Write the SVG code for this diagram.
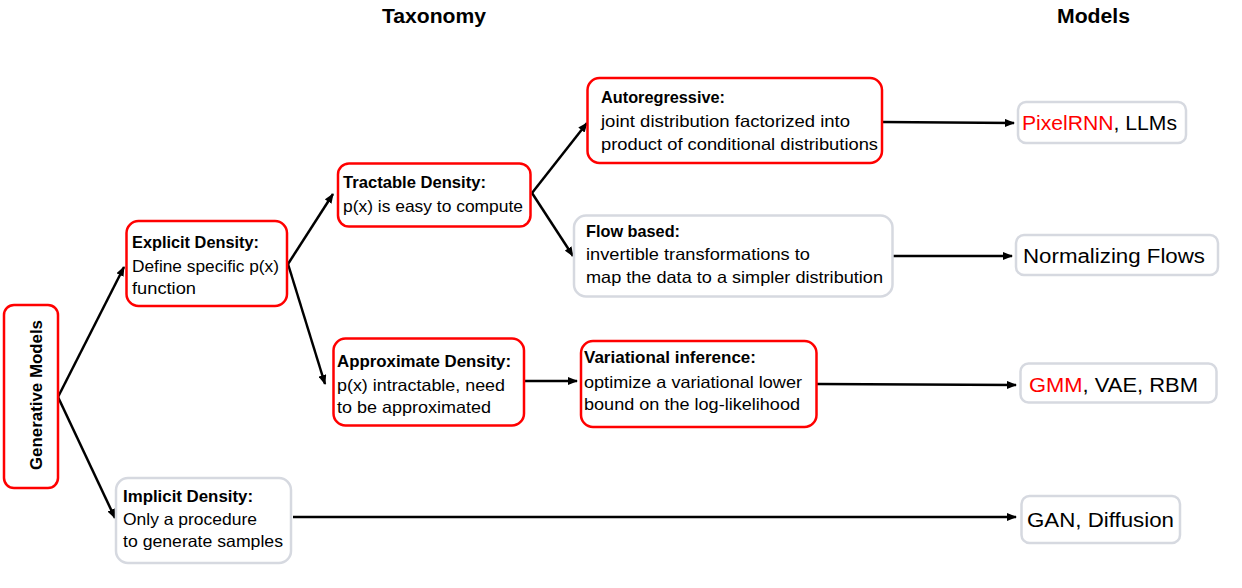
<svg xmlns="http://www.w3.org/2000/svg" width="1242" height="588" viewBox="0 0 1242 588">
<style>
text{font-family:"Liberation Sans",Arial,sans-serif;fill:#000}
.t{font-size:16.5px}
.b{font-size:16.5px;font-weight:bold}
.m{font-size:20px}
.h{font-size:20px;font-weight:bold}
.red{fill:#ff0000}
.rb{fill:#fff;stroke:#ff0000;stroke-width:2.5}
.gb{fill:#fff;stroke:#d6d9e0;stroke-width:2.5}
.c line{stroke:#000;stroke-width:2.5;marker-end:url(#ah)}
</style>
<defs>
<marker id="ah" markerWidth="10" markerHeight="8" refX="9" refY="4" orient="auto" markerUnits="userSpaceOnUse">
<path d="M0,0 L10,4 L0,8 z" fill="#000"/>
</marker>
</defs>
<rect width="1242" height="588" fill="#fff"/>
<g id="headers">
<text class="h" x="382" y="23" textLength="104" lengthAdjust="spacingAndGlyphs">Taxonomy</text>
<text class="h" x="1057" y="23" textLength="73" lengthAdjust="spacingAndGlyphs">Models</text>
</g>
<g class="c" id="connectors">
<line x1="58" y1="397" x2="124" y2="267"/>
<line x1="58" y1="397" x2="115" y2="518"/>
<line x1="288" y1="264" x2="333" y2="194"/>
<line x1="288" y1="264" x2="325" y2="384"/>
<line x1="532" y1="193" x2="587" y2="123"/>
<line x1="532" y1="193" x2="573" y2="256"/>
<line x1="524" y1="381" x2="577" y2="381"/>
<line x1="882" y1="122" x2="1014" y2="123"/>
<line x1="893" y1="256" x2="1012" y2="256"/>
<line x1="817" y1="384" x2="1016" y2="385"/>
<line x1="293" y1="517" x2="1016" y2="517"/>
</g>
<g id="generative">
<rect class="rb" x="4" y="305" width="54" height="183" rx="10"/>
<text class="b" transform="translate(42,395) rotate(-90)" text-anchor="middle" textLength="150" lengthAdjust="spacingAndGlyphs">Generative Models</text>
</g>
<g id="explicit">
<rect class="rb" x="126.5" y="221" width="160.5" height="85" rx="12"/>
<text class="b" x="132" y="248" textLength="127" lengthAdjust="spacingAndGlyphs">Explicit Density:</text>
<text class="t" x="132" y="272" textLength="147" lengthAdjust="spacingAndGlyphs">Define specific p(x)</text>
<text class="t" x="132" y="294" textLength="64" lengthAdjust="spacingAndGlyphs">function</text>
</g>
<g id="implicit">
<rect class="gb" x="116" y="478" width="175" height="85" rx="12"/>
<text class="b" x="123" y="502" textLength="130" lengthAdjust="spacingAndGlyphs">Implicit Density:</text>
<text class="t" x="123" y="525" textLength="134" lengthAdjust="spacingAndGlyphs">Only a procedure</text>
<text class="t" x="123" y="547" textLength="160" lengthAdjust="spacingAndGlyphs">to generate samples</text>
</g>
<g id="tractable">
<rect class="rb" x="338" y="163.5" width="192.5" height="63" rx="11"/>
<text class="b" x="343" y="188" textLength="143" lengthAdjust="spacingAndGlyphs">Tractable Density:</text>
<text class="t" x="343" y="212" textLength="180" lengthAdjust="spacingAndGlyphs">p(x) is easy to compute</text>
</g>
<g id="approximate">
<rect class="rb" x="333.5" y="338.5" width="190.5" height="87" rx="12"/>
<text class="b" x="337" y="367" textLength="174" lengthAdjust="spacingAndGlyphs">Approximate Density:</text>
<text class="t" x="337" y="391" textLength="168" lengthAdjust="spacingAndGlyphs">p(x) intractable, need</text>
<text class="t" x="337" y="413" textLength="154" lengthAdjust="spacingAndGlyphs">to be approximated</text>
</g>
<g id="autoregressive">
<rect class="rb" x="587.5" y="78" width="294.5" height="85" rx="12"/>
<text class="b" x="601" y="103" textLength="124" lengthAdjust="spacingAndGlyphs">Autoregressive:</text>
<text class="t" x="601" y="127" textLength="249" lengthAdjust="spacingAndGlyphs">joint distribution factorized into</text>
<text class="t" x="601" y="150" textLength="277" lengthAdjust="spacingAndGlyphs">product of conditional distributions</text>
</g>
<g id="flow">
<rect class="gb" x="574" y="215.5" width="318.5" height="81" rx="12"/>
<text class="b" x="586" y="237" textLength="94" lengthAdjust="spacingAndGlyphs">Flow based:</text>
<text class="t" x="586" y="260" textLength="224" lengthAdjust="spacingAndGlyphs">invertible transformations to</text>
<text class="t" x="586" y="283" textLength="297" lengthAdjust="spacingAndGlyphs">map the data to a simpler distribution</text>
</g>
<g id="variational">
<rect class="rb" x="581" y="341" width="235.5" height="86" rx="12"/>
<text class="b" x="584" y="363" textLength="172" lengthAdjust="spacingAndGlyphs">Variational inference:</text>
<text class="t" x="584" y="388" textLength="218" lengthAdjust="spacingAndGlyphs">optimize a variational lower</text>
<text class="t" x="584" y="410" textLength="216" lengthAdjust="spacingAndGlyphs">bound on the log-likelihood</text>
</g>
<g id="pixelrnn">
<rect class="gb" x="1018" y="102" width="168" height="41" rx="8"/>
<text class="m" x="1022" y="130" textLength="155" lengthAdjust="spacingAndGlyphs"><tspan class="red">PixelRNN</tspan>, LLMs</text>
</g>
<g id="normalizing">
<rect class="gb" x="1016" y="235" width="202" height="40" rx="8"/>
<text class="m" x="1023" y="263" textLength="182" lengthAdjust="spacingAndGlyphs">Normalizing Flows</text>
</g>
<g id="gmm">
<rect class="gb" x="1020.5" y="363.5" width="196" height="39" rx="8"/>
<text class="m" x="1029" y="392" textLength="169" lengthAdjust="spacingAndGlyphs"><tspan class="red">GMM</tspan>, VAE, RBM</text>
</g>
<g id="gan">
<rect class="gb" x="1021.5" y="496" width="158.5" height="47" rx="8"/>
<text class="m" x="1027" y="527" textLength="147" lengthAdjust="spacingAndGlyphs">GAN, Diffusion</text>
</g>
</svg>
